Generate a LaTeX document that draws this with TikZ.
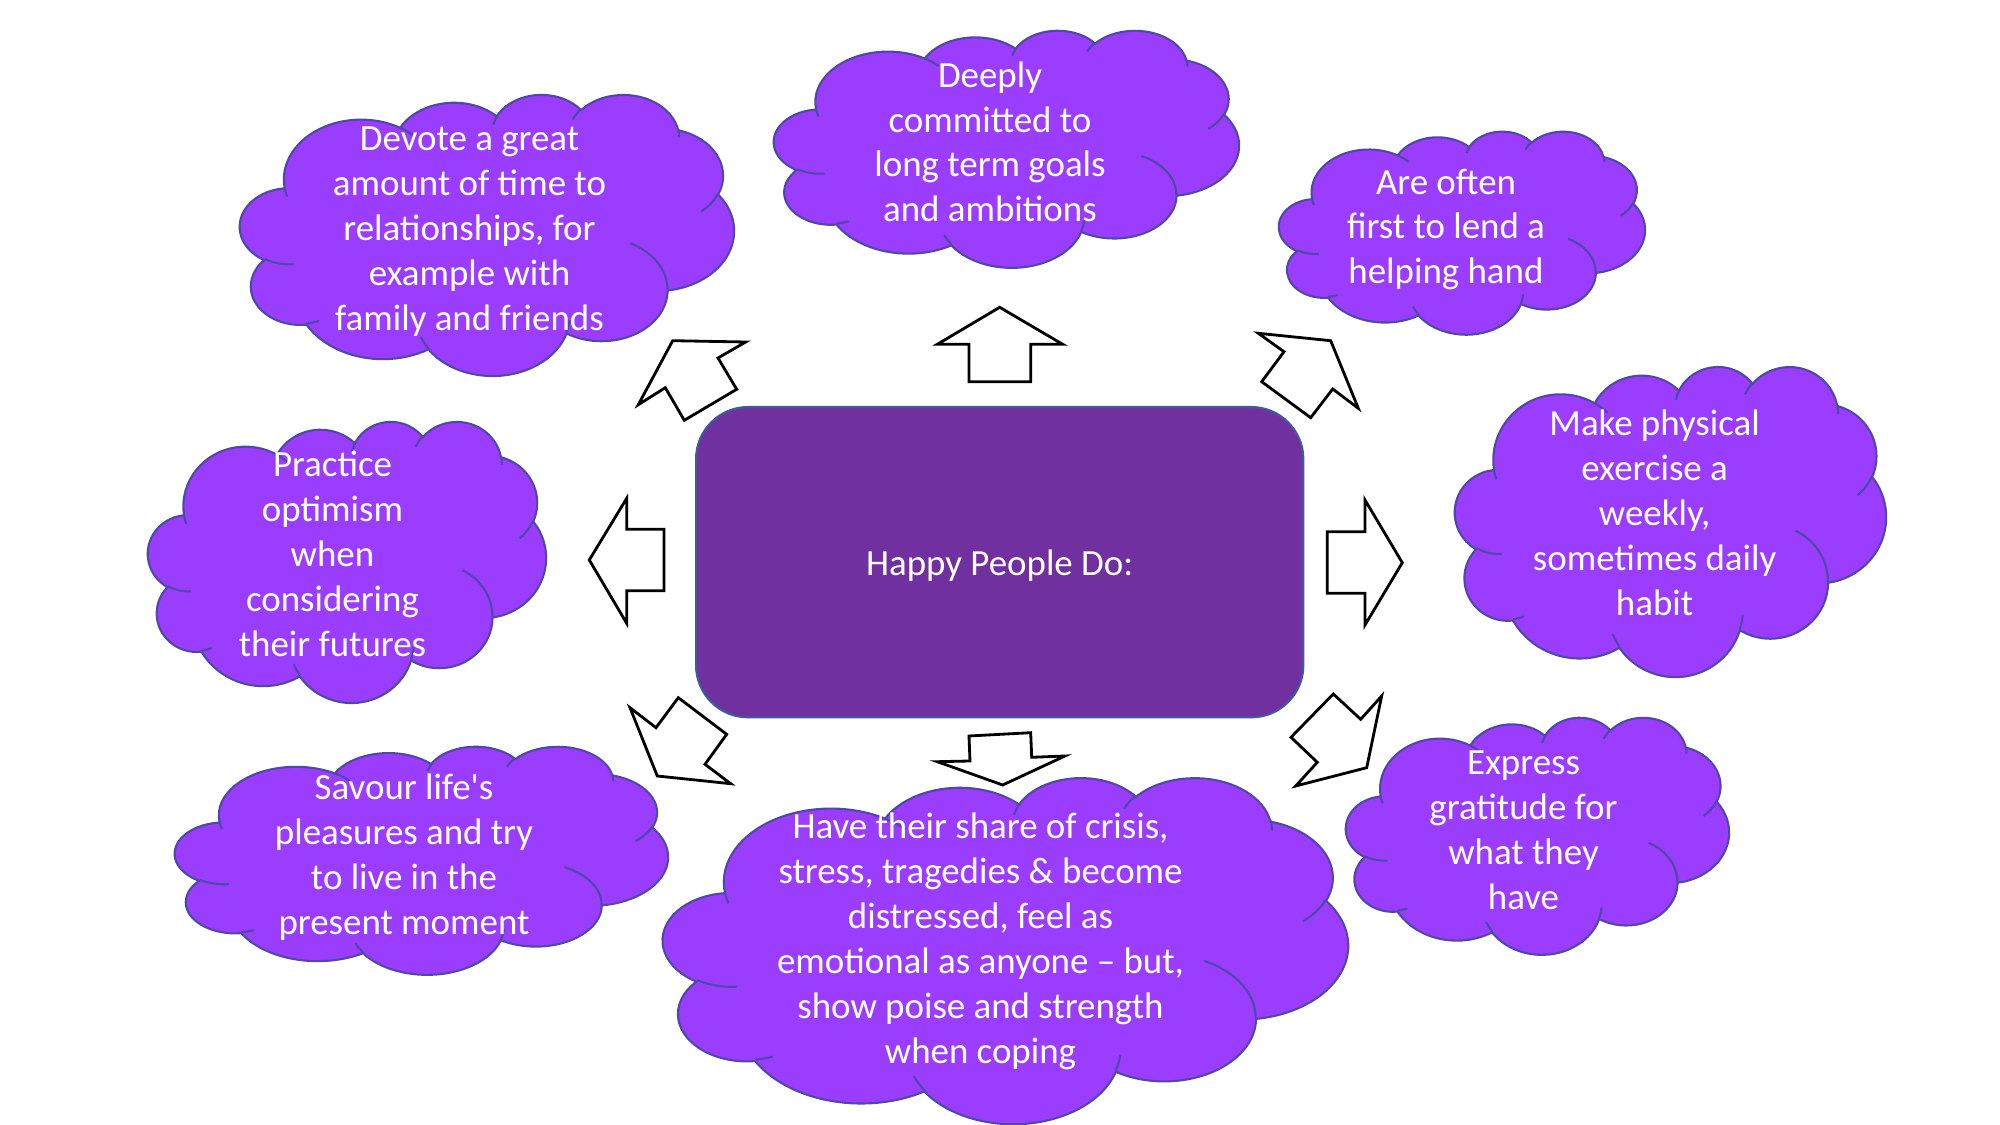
\documentclass[tikz,border=0pt]{standalone}
\usepackage{fontspec}
\setmainfont{Carlito}[Ligatures=TeXOff]
\definecolor{cloudfill}{HTML}{9B3DFF}
\definecolor{cloudline}{HTML}{5048A8}
\definecolor{hubfill}{HTML}{7030A0}
\definecolor{hubline}{HTML}{41589C}
\tikzset{
  cloudstyle/.style={fill=cloudfill, draw=cloudline, line width=0.6pt},
  puffline/.style={draw=cloudline, line width=0.6pt},
  blockarrow/.style={fill=white, draw=black, line width=0.8pt, line join=miter},
  cloudtext/.style={text=white, align=center, font=\fontsize{10.5}{12.8}\selectfont, inner sep=0pt},
  hubbox/.style={fill=hubfill, draw=hubline, line width=0.6pt, rounded corners=14.8pt,
    text=white, font=\fontsize{10.5}{12.8}\selectfont, minimum width=6.073cm,
    minimum height=3.103cm, inner sep=0pt}
}
\newcommand\drawcloud[4]{%
  \begin{scope}[shift={(#1,#2)}, x={#3*0.1mm/100}, y={-#4*0.1mm/100}]
    \path[cloudstyle] (9.028,33.264)
      arc[start angle=-187.745, delta angle=128.109, x radius=15.632, y radius=21.273]
      arc[start angle=-152.026, delta angle=106.550, x radius=12.345, y radius=16.822]
      arc[start angle=-153.479, delta angle=116.155, x radius=10.104, y radius=13.762]
      arc[start angle=-139.714, delta angle=129.504, x radius=11.243, y radius=15.266]
      arc[start angle=-74.775, delta angle=97.983, x radius=12.345, y radius=16.836]
      arc[start angle=-37.522, delta angle=119.387, x radius=15.683, y radius=21.343]
      arc[start angle=0.460, delta angle=121.503, x radius=13.391, y radius=18.211]
      arc[start angle=16.843, delta angle=129.409, x radius=15.630, y radius=21.331]
      arc[start angle=59.027, delta angle=91.130, x radius=17.870, y radius=24.405]
      arc[start angle=-276.697, delta angle=139.783, x radius=10.093, y radius=13.699]
      arc[start angle=-239.624, delta angle=143.737, x radius=10.058, y radius=13.762]
      -- cycle;
    \path[puffline]
      (10.863,60.595) arc[start angle=85.544, delta angle=34.832, x radius=10.058, y radius=13.762]
      (16.037,80.785) arc[start angle=68.246, delta angle=15.057, x radius=10.093, y radius=13.699]
      (38.144,90.486) arc[start angle=146.252, delta angle=12.221, x radius=15.630, y radius=21.331]
      (66.729,80.442) arc[start angle=4.737, delta angle=12.106, x radius=15.630, y radius=21.331]
      (79.002,53.134) arc[start angle=-63.993, delta angle=64.453, x radius=13.391, y radius=18.211]
      (96.755,35.542) arc[start angle=23.208, delta angle=26.434, x radius=12.345, y radius=16.836]
      (88.713,12.560) arc[start angle=-10.210, delta angle=11.031, x radius=11.243, y radius=15.266]
      (67.310,9.148) arc[start angle=-156.283, delta angle=16.569, x radius=11.243, y radius=15.266]
      (51.252,10.926) arc[start angle=-167.724, delta angle=14.245, x radius=10.104, y radius=13.762]
      (32.407,12.019) arc[start angle=-59.636, delta angle=13.907, x radius=15.632, y radius=21.273]
      (9.553,36.549) arc[start angle=163.192, delta angle=9.063, x radius=15.632, y radius=21.273];
  \end{scope}}
\begin{document}
\begin{tikzpicture}[x=0.1mm, y=-0.1mm]
  \useasboundingbox (0,0) rectangle (2000,1125);
  \fill[white] (0,0) rectangle (2000,1125);

  % central box
  \node[hubbox] (hub) at (999.7,562.2) {\raisebox{-3.9pt}[0pt][0pt]{Happy People Do:}};

  % clouds
  \drawcloud{240}{94}{494}{281}
  \drawcloud{774}{30}{465}{237}
  \drawcloud{1279}{131}{366}{203}
  \drawcloud{1455}{366}{431}{310}
  \drawcloud{148}{421}{398}{281}
  \drawcloud{175}{746}{493}{228}
  \drawcloud{663}{777}{685}{346}
  \drawcloud{1346}{717}{383}{237}

  % cloud texts
  \node[cloudtext] (devote) at (469.5,231.6) {\strut Devote a great\\amount of time to\\relationships, for\\example with\\family and friends\strut};
  \node[cloudtext] (deeply) at (990,145.5) {\strut Deeply\\committed to\\long term goals\\and ambitions\strut};
  \node[cloudtext] (often) at (1446,230) {\strut Are often\\first to lend a\\helping hand\strut};
  \node[cloudtext] (exercise) at (1654.6,516.5) {\strut Make physical\\exercise a\\weekly,\\sometimes daily\\habit\strut};
  \node[cloudtext] (optimism) at (332.5,557.6) {\strut Practice\\optimism\\when\\considering\\their futures\strut};
  \node[cloudtext] (savour) at (404,858) {\strut Savour life's\\pleasures and try\\to live in the\\present moment\strut};
  \node[cloudtext] (crisis) at (980.5,941.8) {\strut Have their share of crisis,\\stress, tragedies \& become\\distressed, feel as\\emotional as anyone – but,\\show poise and strength\\when coping\strut};
  \node[cloudtext] (gratitude) at (1523.5,832.8) {\strut Express\\gratitude for\\what they\\have\strut};

  % block arrows
  \draw[blockarrow] (999.7,307.3) -- (1062.7,344.3) -- (1030.7,344.3) -- (1030.7,381.7) -- (969,381.7) -- (969,344.3) -- (937.3,344.3) -- cycle;
  \draw[blockarrow] (1258.3,333.3) -- (1330.7,340.7) -- (1358.3,408.3) -- (1332.7,389) -- (1310.7,417.7) -- (1261.7,381.7) -- (1284,351.7) -- cycle;
  \draw[blockarrow] (1402.3,562.7) -- (1365,625) -- (1365,593.3) -- (1327.3,593.3) -- (1327.3,531.7) -- (1365,531.7) -- (1365,500) -- cycle;
  \draw[blockarrow] (1333.3,694) -- (1360.7,719.3) -- (1381.7,696) -- (1366.7,767.7) -- (1295.7,786) -- (1317.3,762.3) -- (1291,737.3) -- cycle;
  \draw[blockarrow] (969,736) -- (1030.7,732.7) -- (1031.7,757.3) -- (1065,756) -- (1002.7,785) -- (937.3,761.7) -- (970,761) -- cycle;
  \draw[blockarrow] (630,707.7) -- (656,727.7) -- (678.3,697.7) -- (726.7,734.3) -- (705,764.3) -- (730.7,783.7) -- (657.3,776) -- cycle;
  \draw[blockarrow] (589.3,560) -- (626.7,498.3) -- (626.7,529.3) -- (664,529.3) -- (664,590.7) -- (626.7,590.7) -- (626.7,623.3) -- cycle;
  \draw[blockarrow] (672.7,340.7) -- (745.7,342) -- (718,358) -- (736.7,389.3) -- (684.3,420.3) -- (665.3,387.7) -- (638.3,404.7) -- cycle;
\end{tikzpicture}
\end{document}
